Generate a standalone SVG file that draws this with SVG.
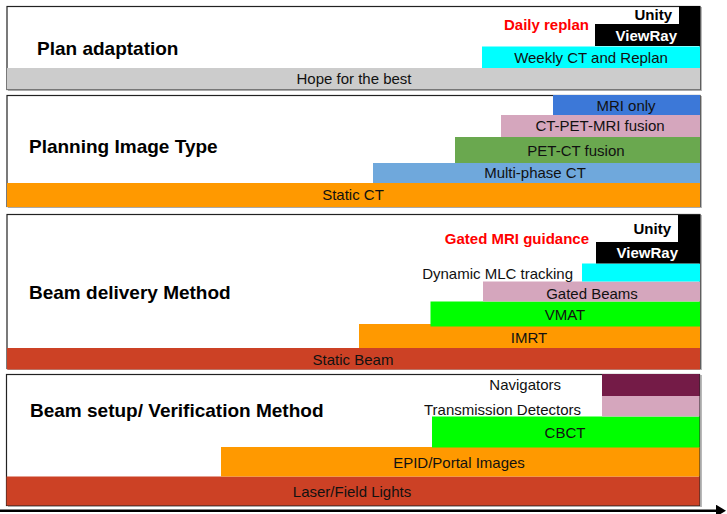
<svg xmlns="http://www.w3.org/2000/svg" width="727" height="514" viewBox="0 0 727 514">
<style>
.panel{fill:#fff;stroke:#222;stroke-width:1.2}
.shadow{fill:#b8b8b8}
.lbl{font-family:"Liberation Sans",Arial,sans-serif;font-size:15px;fill:#111;text-anchor:middle}
.rt{text-anchor:end}
.head{font-family:"Liberation Sans",Arial,sans-serif;font-size:19px;font-weight:bold;fill:#000}
.bold{font-family:"Liberation Sans",Arial,sans-serif;font-size:15px;font-weight:bold;text-anchor:end}
.red{fill:#ff0000}
.wht{fill:#ffffff}
.blk{fill:#000000}
</style>
<defs>
<marker id="ah" markerWidth="10" markerHeight="12" refX="1" refY="6" orient="auto" markerUnits="userSpaceOnUse">
<path d="M0,0 L10,6 L0,12 Z" fill="#000"/>
</marker>
</defs>

<g id="panel-plan-adaptation">
<rect class="shadow" x="8" y="7" width="694" height="84"/>
<rect class="panel" x="7" y="6.5" width="693" height="83"/>
<text class="head" x="37" y="55">Plan adaptation</text>
<g id="hope"><rect x="7" y="68" width="693" height="21.5" fill="#cccccc"/><text class="lbl" x="354" y="83.5">Hope for the best</text></g>
<g id="weekly"><rect x="482" y="46.5" width="218" height="21.5" fill="#00ffff"/><text class="lbl" x="591" y="63">Weekly CT and Replan</text></g>
<g id="viewray1"><rect x="595" y="24" width="105" height="22" fill="#000"/><text class="bold wht" x="677" y="40.5">ViewRay</text></g>
<g id="unity1"><rect x="679" y="6" width="21" height="18" fill="#000"/><text class="bold blk" x="672" y="20">Unity</text></g>
<g id="daily"><text class="bold red" x="589" y="30">Daily replan</text></g>
</g>

<g id="panel-planning-image">
<rect class="shadow" x="8" y="96" width="694" height="112"/>
<rect class="panel" x="7" y="95.5" width="693" height="111"/>
<text class="head" x="29" y="153">Planning Image Type</text>
<g id="static-ct"><rect x="7" y="183" width="693" height="24" fill="#ff9900"/><text class="lbl" x="353" y="200">Static CT</text></g>
<g id="multiphase"><rect x="373" y="163" width="327" height="20" fill="#6fa8dc"/><text class="lbl" x="535" y="177.5">Multi-phase CT</text></g>
<g id="petct"><rect x="455" y="137" width="245" height="26" fill="#6aa84f"/><text class="lbl" x="576" y="156">PET-CT fusion</text></g>
<g id="ctpetmri"><rect x="501" y="115" width="199" height="22" fill="#d5a6bd"/><text class="lbl" x="600" y="130.5">CT-PET-MRI fusion</text></g>
<g id="mri"><rect x="553" y="95" width="147" height="20" fill="#3c78d8"/><text class="lbl" x="626" y="111">MRI only</text></g>
</g>

<g id="panel-beam-delivery">
<rect class="shadow" x="8" y="215" width="694" height="155"/>
<rect class="panel" x="7" y="214.5" width="693" height="154"/>
<text class="head" x="29" y="298.5">Beam delivery Method</text>
<g id="static-beam"><rect x="7" y="348" width="693" height="21.5" fill="#cc4125"/><text class="lbl" x="353" y="364.5">Static Beam</text></g>
<g id="imrt"><rect x="359" y="324" width="341" height="24" fill="#ff9900"/><text class="lbl" x="529" y="343">IMRT</text></g>
<g id="vmat"><rect x="430.5" y="301.5" width="269.5" height="25" fill="#00ff00"/><text class="lbl" x="565" y="319.5">VMAT</text></g>
<g id="gated-beams"><rect x="483" y="281.5" width="217" height="20" fill="#d5a6bd"/><text class="lbl" x="592" y="299">Gated Beams</text></g>
<g id="dmlc"><rect x="582" y="263.5" width="118" height="18" fill="#00ffff"/><text class="lbl rt" x="573" y="278.5">Dynamic MLC tracking</text></g>
<g id="viewray2"><rect x="596" y="242" width="104" height="21.5" fill="#000"/><text class="bold wht" x="678" y="258">ViewRay</text></g>
<g id="unity2"><rect x="678" y="215" width="22" height="27" fill="#000"/><text class="bold blk" x="671" y="234">Unity</text></g>
<g id="gated-mri"><text class="bold red" x="589" y="243.5">Gated MRI guidance</text></g>
</g>

<g id="panel-beam-setup">
<rect class="shadow" x="8" y="375" width="694" height="132"/>
<rect class="panel" x="6.5" y="374.5" width="693" height="131"/>
<text class="head" x="30" y="417">Beam setup/ Verification Method</text>
<g id="laser"><rect x="6.5" y="476.5" width="693" height="29" fill="#cc4125"/><text class="lbl" x="352" y="497">Laser/Field Lights</text></g>
<g id="epid"><rect x="221" y="447" width="478.5" height="29.5" fill="#ff9900"/><text class="lbl" x="459" y="468">EPID/Portal Images</text></g>
<g id="cbct"><rect x="432" y="416.5" width="267.5" height="31" fill="#00ff00"/><text class="lbl" x="565" y="438">CBCT</text></g>
<g id="transmission"><rect x="602" y="396" width="97.5" height="20.5" fill="#d5a6bd"/><text class="lbl rt" x="581" y="414.5">Transmission Detectors</text></g>
<g id="navigators"><rect x="602" y="374" width="97.5" height="22" fill="#741b47"/><text class="lbl rt" x="561" y="390">Navigators</text></g>
</g>

<g id="connectors">
<line x1="0" y1="510.7" x2="717" y2="510.7" stroke="#000" stroke-width="2.5" marker-end="url(#ah)"/>
</g>
</svg>
